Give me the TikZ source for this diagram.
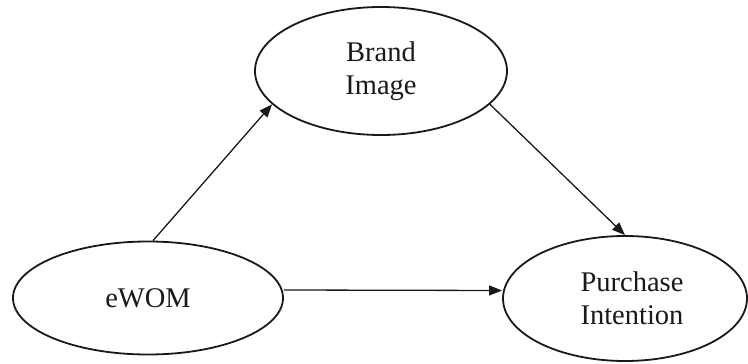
\documentclass[tikz,border=0pt]{standalone}
\usepackage{fontspec}
\setmainfont{Liberation Serif}
\usetikzlibrary{shapes.geometric,arrows.meta}
\begin{document}
\begin{tikzpicture}[x=1pt,y=-1pt,
  construct/.style={ellipse,draw=black!90,line width=1.8pt,inner sep=0pt,
    align=center,font=\fontsize{28.5}{33}\selectfont,text=black!90},
  path link/.style={draw=black!90,line width=1.3pt,
    -{Triangle[length=13pt,width=10pt]}}]
  \useasboundingbox (0,0) rectangle (748,364);
  % constructs of the model
  \node[construct,minimum width=252pt,minimum height=128pt] (brand) at (381,71) {Brand\\Image};
  \node[construct,minimum width=270pt,minimum height=113pt] (ewom) at (148,298) {eWOM};
  \node[construct,minimum width=244pt,minimum height=125pt] (pi) at (625,298.5) {\hspace{14pt}Purchase\\\hspace{14pt}Intention};
  % hypothesised paths
  \draw[path link] (ewom.85) -- (brand.197);
  \draw[path link] (brand.343) -- (pi.north);
  \draw[path link] ([yshift=8pt]ewom.east) -- ([yshift=8pt]pi.west);
\end{tikzpicture}
\end{document}
